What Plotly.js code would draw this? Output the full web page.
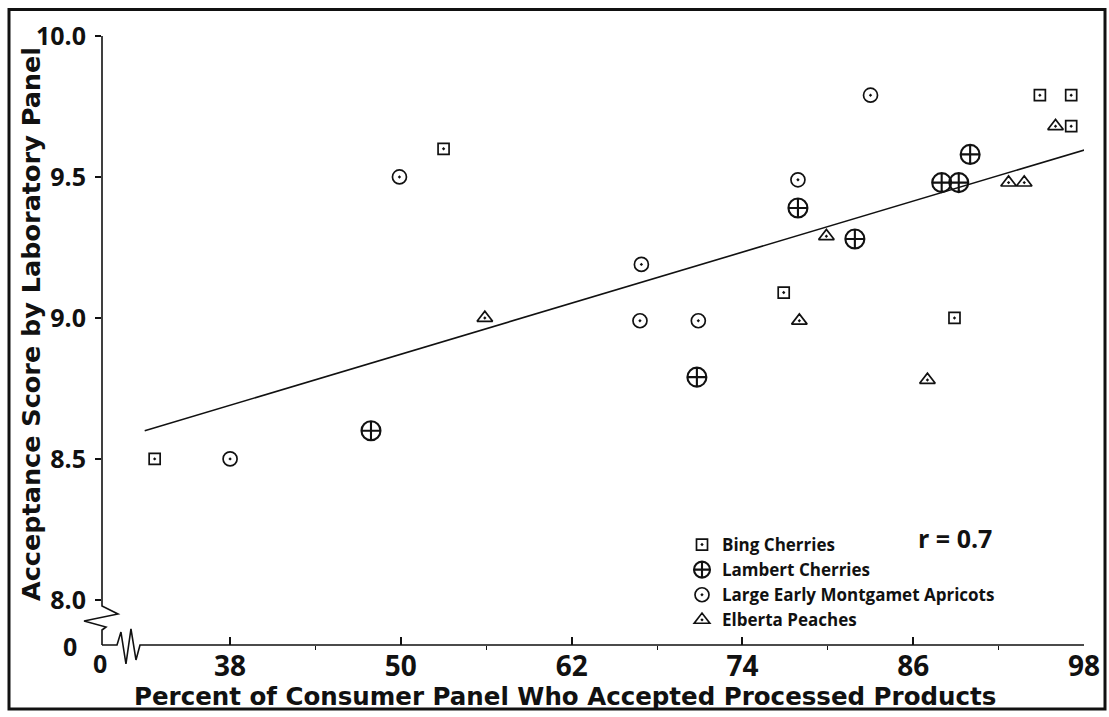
<!DOCTYPE html>
<html>
<head>
<meta charset="utf-8">
<script src="https://cdn.plot.ly/plotly-3.0.1.min.js"></script>
<style>html,body{margin:0;padding:0;background:#fff;}#chart{width:1109px;height:717px;}</style>
</head>
<body>
<div id="chart"></div>
<script>
// ---- data ----
const bingX = [32.7, 53.0, 76.9, 88.9, 94.9, 97.1, 97.1];
const bingY = [8.50, 9.60, 9.09, 9.00, 9.79, 9.79, 9.68];
const lambertX = [47.9, 70.8, 77.9, 81.9, 88.0, 89.2, 90.0];
const lambertY = [8.60, 8.79, 9.39, 9.28, 9.48, 9.48, 9.58];
const apricotX = [38.0, 49.9, 66.9, 66.8, 70.9, 77.9, 83.0];
const apricotY = [8.50, 9.50, 9.19, 8.99, 8.99, 9.49, 9.79];
const peachX = [55.9, 78.0, 79.9, 87.0, 92.7, 93.8, 96.0];
const peachY = [9.00, 8.99, 9.29, 8.78, 9.48, 9.48, 9.68];
const fitX = [32.0, 98.3];
const fitY = [8.60, 9.60];
const xTickVals = [38, 50, 62, 74, 86, 98];
const xTickText = ['38', '50', '62', '74', '86', '98'];
const xMinorVals = [44, 56, 68, 80, 92];
const yTickVals = [8.0, 8.5, 9.0, 9.5, 10.0];
const yTickText = ['8.0', '8.5', '9.0', '9.5', '10.0'];
const seriesNames = ['Bing Cherries', 'Lambert Cherries', 'Large Early Montgamet Apricots', 'Elberta Peaches'];

// ---- layout geometry (pixels) ----
const ML = 102, MT = 36, PW = 982, PH = 609;
const fx = p => (p - ML) / PW;
const fy = p => (MT + PH - p) / PH;
const pathOf = pts => 'M' + pts.map(p => fx(p[0]).toFixed(4) + ',' + fy(p[1]).toFixed(4)).join('L');

const INK = '#111111';
const FONT = '"Open Sans", sans-serif';
const TFONT = '"DejaVu Sans", sans-serif';

function mk(x, y, name, symbol, size, lw) {
  return {
    type: 'scatter', mode: 'markers', x: x, y: y, name: name,
    marker: {symbol: symbol, size: size, color: INK, line: {color: INK, width: lw}},
    hoverinfo: 'x+y+name'
  };
}

const traces = [
  {type: 'scatter', mode: 'lines', x: fitX, y: fitY, line: {color: INK, width: 1.6}, showlegend: false, hoverinfo: 'skip'},
  mk(bingX, bingY, seriesNames[0], 'square-open-dot', 11, 1.7),
  mk(lambertX, lambertY, seriesNames[1], 'circle-cross-open', 19, 2.1),
  mk(apricotX, apricotY, seriesNames[2], 'circle-open-dot', 14, 1.7),
  mk(peachX, peachY, seriesNames[3], 'triangle-up-open-dot', 13.5, 1.7)
];

const shapes = [
  // outer frame
  {type: 'rect', xref: 'paper', yref: 'paper', x0: fx(9), x1: fx(1105), y0: fy(709), y1: fy(9.5), line: {color: INK, width: 3}},
  // y axis line with break
  {type: 'path', xref: 'paper', yref: 'paper', path: pathOf([[102, 36], [102, 606], [118, 614], [84, 621], [106, 627], [102, 630], [102, 645]]), line: {color: INK, width: 1.6}},
  // x axis line with break
  {type: 'path', xref: 'paper', yref: 'paper', path: pathOf([[102, 645], [117, 645], [121, 632], [126, 664], [131, 629], [136, 660], [140, 645], [1084, 645]]), line: {color: INK, width: 1.6}}
];

const annotations = [
  {text: 'r = 0.7', xref: 'paper', yref: 'paper', x: fx(955), y: fy(538), showarrow: false, xanchor: 'center', yanchor: 'middle', font: {family: FONT, size: 25, color: INK, weight: 'bold'}},
  {text: 'Acceptance Score by Laboratory Panel', xref: 'paper', yref: 'paper', x: fx(31), y: fy(324), textangle: -90, showarrow: false, xanchor: 'center', yanchor: 'middle', font: {family: TFONT, size: 25.5, color: INK, weight: 'bold'}},
  {text: 'Percent of Consumer Panel Who Accepted Processed Products', xref: 'paper', yref: 'paper', x: fx(565), y: fy(697), showarrow: false, xanchor: 'center', yanchor: 'middle', font: {family: TFONT, size: 24.5, color: INK, weight: 'bold'}},
  {text: '0', xref: 'paper', yref: 'paper', x: fx(70), y: fy(646), showarrow: false, xanchor: 'center', yanchor: 'middle', font: {family: FONT, size: 25, color: INK, weight: 'bold'}},
  {text: '0', xref: 'paper', yref: 'paper', x: fx(100), y: fy(663), showarrow: false, xanchor: 'center', yanchor: 'middle', font: {family: FONT, size: 25, color: INK, weight: 'bold'}}
];

const layout = {
  width: 1109, height: 717,
  margin: {l: ML, r: 1109 - ML - PW, t: MT, b: 717 - MT - PH, pad: 0},
  paper_bgcolor: '#ffffff', plot_bgcolor: '#ffffff',
  showlegend: true,
  legend: {x: fx(682), y: fy(527), xanchor: 'left', yanchor: 'top', bgcolor: 'rgba(0,0,0,0)',
           font: {family: FONT, size: 17, color: INK, weight: 'bold'}, itemwidth: 30, tracegroupgap: 0},
  xaxis: {range: [29, 98], showgrid: false, zeroline: false, showline: false,
          tickmode: 'array', tickvals: xTickVals, ticktext: xTickText,
          ticks: 'inside', ticklen: 8, tickwidth: 1.6, tickcolor: INK, ticklabelstandoff: 2,
          minor: {tickmode: 'array', tickvals: xMinorVals, ticks: 'outside', ticklen: 4, tickwidth: 1.4, tickcolor: INK, showgrid: false},
          tickfont: {family: FONT, size: 28, color: INK, weight: 'bold'}, fixedrange: true},
  yaxis: {range: [7.84, 10.0], showgrid: false, zeroline: false, showline: false,
          tickmode: 'array', tickvals: yTickVals, ticktext: yTickText,
          ticks: 'outside', ticklen: 6, tickwidth: 1.6, tickcolor: INK, ticklabelstandoff: 4,
          tickfont: {family: FONT, size: 25, color: INK, weight: 'bold'}, fixedrange: true},
  shapes: shapes,
  annotations: annotations
};

Plotly.newPlot('chart', traces, layout, {displayModeBar: false, staticPlot: false});
</script>
</body>
</html>
